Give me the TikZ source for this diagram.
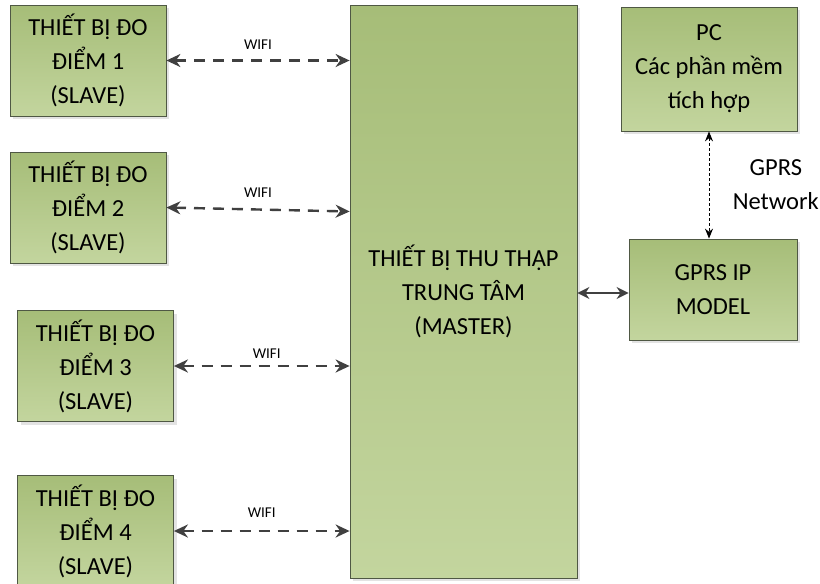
\documentclass[tikz,border=0pt]{standalone}
\usepackage{fontspec}
\setmainfont{Carlito}
\usetikzlibrary{arrows.meta,positioning,shadows,calc}

\definecolor{boxtop}{HTML}{A6BD78}
\definecolor{boxbot}{HTML}{C3D59E}
\definecolor{boxline}{HTML}{4F5844}
\definecolor{linkgray}{HTML}{404040}

\begin{document}
\begin{tikzpicture}[
  x=1pt, y=-1pt,
  box/.style={rectangle, draw=boxline, line width=0.8pt, top color=boxtop, bottom color=boxbot,
    drop shadow={shadow xshift=3pt, shadow yshift=-3pt, fill=black!22},
    align=center, font=\fontsize{24.5}{34}\selectfont, inner sep=0pt},
  slave/.style={box, minimum width=156pt, minimum height=111pt},
  wifi/.style={<->, dashed, dash pattern=on 11pt off 8pt, line width=2.4pt, draw=linkgray},
  lbl/.style={font=\fontsize{15}{17}\selectfont, text=black},
  >={Stealth[length=14pt, width=13pt]}
]
  \useasboundingbox (0,0) rectangle (820,584);

  % Measuring devices
  \node[slave] (Slave1) at (88,60.5) {THIẾT BỊ ĐO\\ĐIỂM 1\\(SLAVE)};
  \node[slave] (Slave2) at (88,207.5) {THIẾT BỊ ĐO\\ĐIỂM 2\\(SLAVE)};
  \node[slave] (Slave3) at (95.5,366) {THIẾT BỊ ĐO\\ĐIỂM 3\\(SLAVE)};
  \node[slave] (Slave4) at (95.5,531) {THIẾT BỊ ĐO\\ĐIỂM 4\\(SLAVE)};

  % Collector, modem and PC
  \node[box, minimum width=227pt, minimum height=573pt] (Master) at (463.5,291.5)
    {THIẾT BỊ THU THẬP\\TRUNG TÂM\\(MASTER)};
  \node[box, minimum width=176pt, minimum height=124pt] (PC) at (709,69)
    {PC\\Các phần mềm\\tích hợp};
  \node[box, minimum width=168pt, minimum height=101pt] (Modem) at (713,289.5)
    {GPRS IP\\MODEL};

  % WIFI links
  \draw[wifi] (Slave1.east) -- node[lbl, above=6pt] {WIFI} (Slave1.east -| Master.west);
  \draw[wifi] (Slave2.east) -- node[lbl, above=7pt] {WIFI} ($(Slave2.east -| Master.west)+(0,4)$);
  \draw[wifi] (Slave3.east) -- node[lbl, above=3pt, xshift=5pt] {WIFI} (Slave3.east -| Master.west);
  \draw[wifi] (Slave4.east) -- node[lbl, above=9pt] {WIFI} (Slave4.east -| Master.west);

  % Master to modem
  \draw[<->, line width=2.4pt, draw=linkgray, >={Stealth[length=12pt, width=12pt]}]
    ($(Master.east)+(0,1.5)$) -- ($(Modem.west)+(0,3.5)$);

  % GPRS network
  \draw[<->, dashed, dash pattern=on 3pt off 2pt, line width=1pt, >={Stealth[length=10pt, width=8pt]}]
    (PC.south) -- node[right=20pt, align=center, font=\fontsize{24.5}{34}\selectfont] {GPRS\\Network} (PC.south |- Modem.north);
\end{tikzpicture}
\end{document}
